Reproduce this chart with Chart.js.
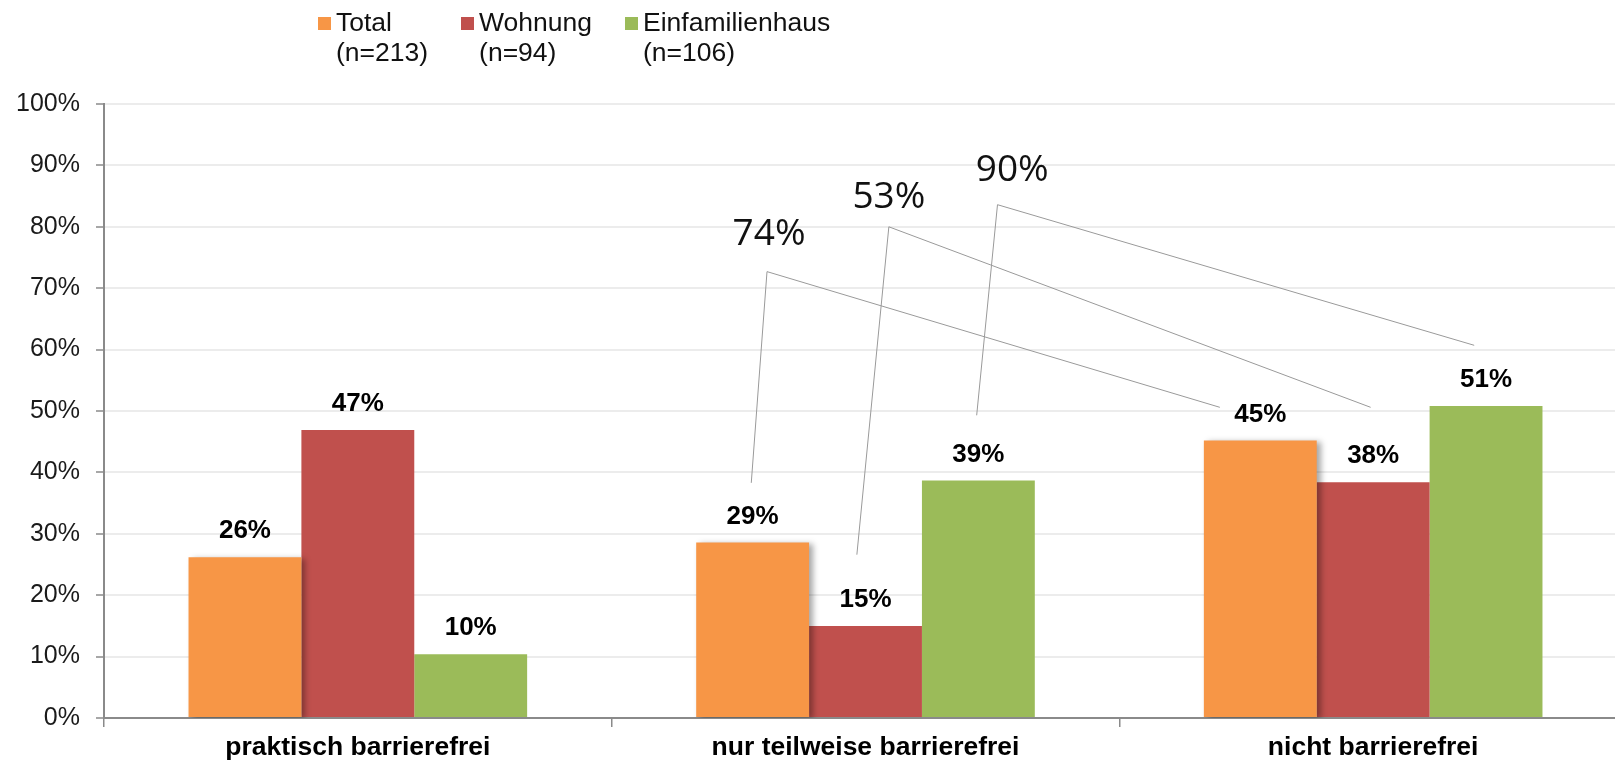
<!DOCTYPE html>
<html lang="de">
<head>
<meta charset="utf-8">
<script src="https://cdn.jsdelivr.net/npm/chart.js@4.4.1/dist/chart.umd.min.js"></script>
<style>
  html, body { margin: 0; padding: 0; background: #fff; width: 1615px; height: 763px; overflow: hidden; }
  #wrap { position: relative; width: 1640px; height: 763px; }
  #chart { position: absolute; left: 0; top: 0; }
  #legend { position: absolute; left: 318px; top: 7px; display: flex; gap: 33px;
            font-family: "Liberation Sans", Arial, sans-serif; font-size: 26.5px; line-height: 30px; color: #111; }
  #legend .item { display: flex; align-items: flex-start; }
  #legend .box { width: 13px; height: 13px; margin-top: 10px; margin-right: 5px; flex: none; }
</style>
</head>
<body>
<div id="wrap">
  <canvas id="chart" width="1640" height="763"></canvas>
  <div id="legend"></div>
</div>
<script>
(function () {
  'use strict';

  // ── Données ──
  var categories = ['praktisch barrierefrei', 'nur teilweise barrierefrei', 'nicht barrierefrei'];
  var seriesNames = ['Total', 'Wohnung', 'Einfamilienhaus'];
  var sampleSizes = ['(n=213)', '(n=94)', '(n=106)'];
  var totalValues = [26.2, 28.6, 45.2];
  var wohnungValues = [46.9, 15.0, 38.4];
  var hausValues = [10.4, 38.7, 50.8];
  var yTickStep = 10;

  // Summen-Beschriftungen (Total/Wohnung/Haus über "nur teilweise" + "nicht")
  var sumLabels = ['74%', '53%', '90%'];
  // Positionen in Datenkoordinaten: [Kategorie-Index, Prozent]
  var sumTextAt = [[0.81, 78.7], [1.046, 84.7], [1.289, 89.1]];
  var sumApex = [[0.806, 72.7], [1.046, 80.0], [1.26, 83.6]];
  var sumEnds = [
    [[0.775, 38.3], [1.698, 50.6]],
    [[0.983, 26.6], [1.995, 50.6]],
    [[1.219, 49.3], [2.199, 60.7]]
  ];

  var palette = ['#F79646', '#C0504D', '#9BBB59'];
  var seriesValues = [totalValues, wohnungValues, hausValues];

  // ── Legende (HTML) ──
  var legend = document.getElementById('legend');
  seriesNames.forEach(function (name, i) {
    var item = document.createElement('div');
    item.className = 'item';
    item.innerHTML = '<span class="box" style="background:' + palette[i] + '"></span>' +
      '<span>' + name + '<br>' + sampleSizes[i] + '</span>';
    legend.appendChild(item);
  });

  // ── Plugins ──
  var totalShadow = {
    id: 'totalShadow',
    beforeDatasetDraw: function (chart, args) {
      if (args.index !== 0) return;
      var ctx = chart.ctx;
      ctx.save();
      ctx.shadowColor = 'rgba(0,0,0,0.35)';
      ctx.shadowBlur = 6;
      ctx.shadowOffsetX = 4;
      ctx.shadowOffsetY = 2;
    },
    afterDatasetDraw: function (chart, args) {
      if (args.index === 0) chart.ctx.restore();
    }
  };

  var valueLabels = {
    id: 'valueLabels',
    afterDatasetsDraw: function (chart) {
      var ctx = chart.ctx;
      ctx.save();
      ctx.font = 'bold 26px "Liberation Sans", Arial, sans-serif';
      ctx.fillStyle = '#000';
      ctx.textAlign = 'center';
      ctx.textBaseline = 'middle';
      chart.data.datasets.forEach(function (ds, di) {
        chart.getDatasetMeta(di).data.forEach(function (bar, i) {
          ctx.fillText(Math.round(ds.data[i]) + '%', bar.x, bar.y - 26);
        });
      });
      ctx.restore();
    }
  };

  var sumCallouts = {
    id: 'sumCallouts',
    afterDraw: function (chart) {
      var ctx = chart.ctx, sx = chart.scales.x, sy = chart.scales.y;
      function px(p) { return [sx.getPixelForValue(p[0]), sy.getPixelForValue(p[1])]; }
      ctx.save();
      ctx.strokeStyle = '#9a9a9a';
      ctx.lineWidth = 1;
      sumLabels.forEach(function (txt, i) {
        var a = px(sumApex[i]);
        sumEnds[i].forEach(function (e) {
          var b = px(e);
          ctx.beginPath();
          ctx.moveTo(a[0], a[1]);
          ctx.lineTo(b[0], b[1]);
          ctx.stroke();
        });
        var t = px(sumTextAt[i]);
        ctx.font = '37px "Open Sans", sans-serif';
        ctx.fillStyle = '#111';
        ctx.textAlign = 'center';
        ctx.textBaseline = 'middle';
        ctx.fillText(txt, t[0], t[1]);
      });
      ctx.restore();
    }
  };

  // ── Graphique ──
  new Chart(document.getElementById('chart'), {
    type: 'bar',
    data: {
      labels: categories,
      datasets: seriesNames.map(function (name, i) {
        return { label: name, data: seriesValues[i], backgroundColor: palette[i], borderWidth: 0,
                 categoryPercentage: 0.667, barPercentage: 1.0 };
      })
    },
    options: {
      responsive: false,
      animation: false,
      layout: { padding: { top: 104, right: 13, left: 0, bottom: 0 } },
      plugins: { legend: { display: false }, tooltip: { enabled: false } },
      scales: {
        x: {
          grid: { offset: true, drawOnChartArea: false, drawTicks: true, tickLength: 9, color: '#8a8a8a', lineWidth: 1.5 },
          border: { color: '#8a8a8a', width: 2 },
          ticks: { padding: 5, color: '#000', font: { family: '"Liberation Sans", Arial, sans-serif', size: 26.5, weight: 'bold' } },
          afterFit: function (s) { s.height = 45; }
        },
        y: {
          min: 0, max: 100,
          grid: { color: '#ececec', lineWidth: 2, tickLength: 8, tickColor: '#8a8a8a', tickWidth: 1.5 },
          border: { color: '#8a8a8a', width: 2 },
          ticks: { stepSize: yTickStep, padding: 16, color: '#1a1a1a',
                   font: { family: '"Liberation Sans", Arial, sans-serif', size: 25 },
                   callback: function (v) { return v + '%'; } },
          afterFit: function (s) { s.width = 104; }
        }
      }
    },
    plugins: [totalShadow, valueLabels, sumCallouts]
  });
})();
</script>
</body>
</html>
